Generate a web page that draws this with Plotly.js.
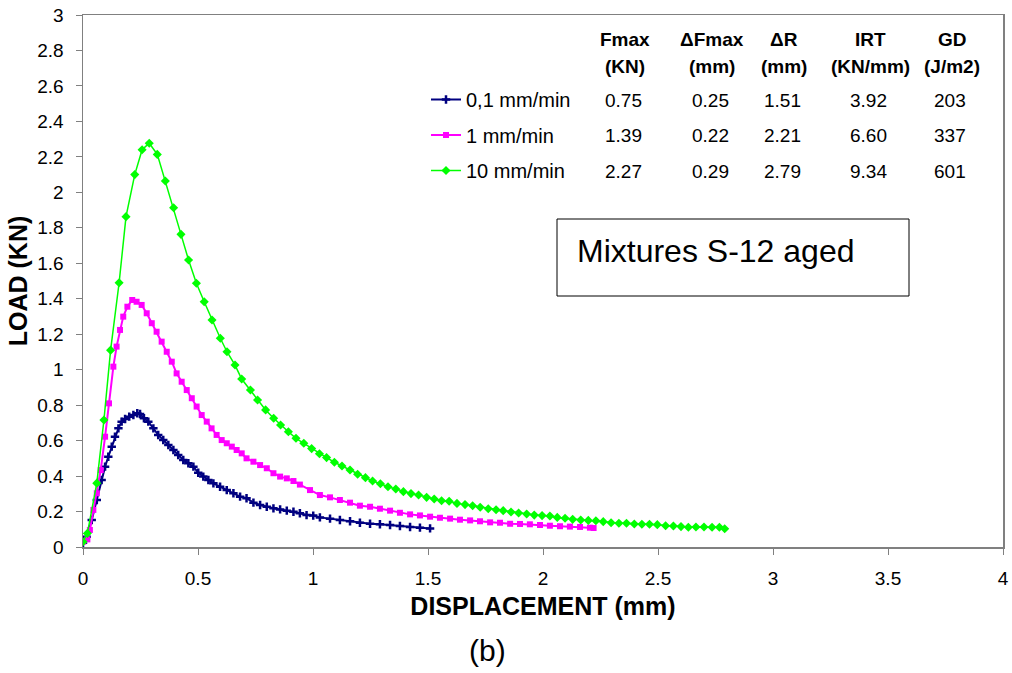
<!DOCTYPE html>
<html><head><meta charset="utf-8">
<script src="https://cdn.plot.ly/plotly-3.0.1.min.js"></script>
<style>body{margin:0;background:#fff}#chart{width:1012px;height:673px}</style>
</head><body><div id="chart"></div>
<script>
const seriesNames = ["0,1 mm/min", "1 mm/min", "10 mm/min"];

const navyX = [0,0.016,0.038,0.06,0.081,0.096,0.11,0.125,0.139,0.154,0.168,0.183,0.201,0.219,0.236,0.248,0.265,0.284,0.306,0.327,0.349,0.371,0.393,0.414,0.436,0.458,0.48,0.501,0.523,0.545,0.567,0.596,0.625,0.654,0.683,0.711,0.741,0.77,0.799,0.828,0.857,0.886,0.915,0.943,0.972,1.001,1.03,1.074,1.117,1.161,1.204,1.248,1.291,1.335,1.378,1.422,1.465,1.509];
const navyY = [0.024,0.058,0.152,0.265,0.378,0.453,0.509,0.566,0.622,0.669,0.707,0.722,0.735,0.744,0.754,0.75,0.726,0.707,0.669,0.632,0.603,0.575,0.547,0.519,0.491,0.472,0.453,0.419,0.397,0.378,0.359,0.34,0.321,0.303,0.284,0.275,0.25,0.237,0.227,0.218,0.212,0.205,0.199,0.19,0.18,0.177,0.167,0.16,0.152,0.145,0.137,0.131,0.128,0.124,0.118,0.113,0.109,0.105];

const magX = [0.001,0.019,0.03,0.045,0.06,0.077,0.096,0.113,0.132,0.146,0.161,0.175,0.193,0.214,0.233,0.255,0.277,0.299,0.32,0.342,0.364,0.386,0.407,0.429,0.451,0.473,0.494,0.516,0.538,0.559,0.581,0.603,0.625,0.647,0.668,0.69,0.711,0.741,0.77,0.799,0.828,0.857,0.886,0.915,0.943,0.987,1.03,1.074,1.117,1.161,1.204,1.248,1.291,1.335,1.378,1.422,1.465,1.509,1.552,1.596,1.639,1.683,1.726,1.77,1.813,1.857,1.9,1.943,1.987,2.03,2.074,2.117,2.161,2.204,2.22];
const magY = [0.03,0.043,0.096,0.209,0.303,0.434,0.622,0.81,1.017,1.13,1.224,1.299,1.355,1.393,1.383,1.365,1.318,1.262,1.214,1.158,1.101,1.045,0.979,0.932,0.885,0.839,0.792,0.744,0.707,0.669,0.632,0.603,0.585,0.566,0.547,0.528,0.5,0.481,0.462,0.444,0.416,0.397,0.387,0.372,0.352,0.321,0.293,0.28,0.265,0.25,0.233,0.227,0.216,0.205,0.193,0.184,0.178,0.171,0.165,0.16,0.154,0.15,0.145,0.139,0.137,0.131,0.13,0.128,0.124,0.12,0.117,0.115,0.113,0.109,0.107];

const greenX = [0,0.019,0.06,0.091,0.12,0.157,0.187,0.225,0.257,0.288,0.323,0.358,0.394,0.426,0.459,0.493,0.527,0.561,0.597,0.626,0.661,0.69,0.728,0.759,0.794,0.829,0.859,0.893,0.926,0.96,0.994,1.028,1.059,1.093,1.126,1.161,1.194,1.228,1.259,1.293,1.326,1.36,1.393,1.426,1.459,1.494,1.527,1.559,1.592,1.626,1.661,1.694,1.727,1.762,1.796,1.827,1.861,1.894,1.929,1.962,1.996,2.03,2.062,2.096,2.129,2.164,2.197,2.23,2.262,2.296,2.33,2.363,2.397,2.43,2.463,2.497,2.533,2.567,2.6,2.632,2.665,2.7,2.735,2.767,2.79];
const greenY = [0.03,0.077,0.36,0.716,1.11,1.49,1.863,2.1,2.24,2.277,2.214,2.064,1.913,1.763,1.618,1.487,1.383,1.28,1.177,1.101,1.026,0.947,0.885,0.829,0.773,0.726,0.688,0.65,0.613,0.585,0.555,0.526,0.504,0.478,0.457,0.434,0.41,0.391,0.372,0.357,0.34,0.327,0.312,0.301,0.293,0.28,0.271,0.261,0.258,0.246,0.239,0.233,0.224,0.216,0.21,0.205,0.197,0.192,0.186,0.18,0.177,0.175,0.167,0.162,0.156,0.152,0.15,0.148,0.143,0.137,0.134,0.134,0.13,0.128,0.128,0.126,0.12,0.118,0.115,0.111,0.113,0.113,0.111,0.111,0.103];

const tableHeaders1 = ["Fmax", "ΔFmax", "ΔR", "IRT", "GD"];
const tableHeaders2 = ["(KN)", "(mm)", "(mm)", "(KN/mm)", "(J/m2)"];
const tableRows = [
  ["0.75", "0.25", "1.51", "3.92", "203"],
  ["1.39", "0.22", "2.21", "6.60", "337"],
  ["2.27", "0.29", "2.79", "9.34", "601"]
];
const xTicks = [0, 0.5, 1, 1.5, 2, 2.5, 3, 3.5, 4];
const yTicks = [0,0.2,0.4,0.6,0.8,1,1.2,1.4,1.6,1.8,2,2.2,2.4,2.6,2.8,3];

const FONT = "Liberation Sans, Arial, sans-serif";
const L = 83, R = 1003, T = 15, B = 547;
const px = v => (v - L) / (R - L);
const py = v => (B - v) / (B - T);

const traces = [
  {x: navyX, y: navyY, name: seriesNames[0], mode: "lines+markers", legendgroup: "a",
   line: {color: "#000080", width: 2}, marker: {symbol: "cross-thin", size: 6, color: "#000080", line: {color: "#000080", width: 2.5}}},
  {x: magX, y: magY, name: seriesNames[1], mode: "lines+markers", legendgroup: "b",
   line: {color: "#FF00FF", width: 2}, marker: {symbol: "square", size: 6, color: "#FF00FF"}},
  {x: greenX, y: greenY, name: seriesNames[2], mode: "lines+markers", legendgroup: "c",
   line: {color: "#00FF00", width: 1.5}, marker: {symbol: "diamond", size: 7, color: "#00FF00"}}
];

const colX = [625, 712, 784, 870, 952];
const annotations = [];
tableHeaders1.forEach((t, i) => annotations.push({xref: "paper", yref: "paper", x: px(colX[i]), y: py(39), text: "<b>" + t + "</b>", showarrow: false, xanchor: "center", yanchor: "middle", font: {family: FONT, size: 19, color: "#000"}}));
tableHeaders2.forEach((t, i) => annotations.push({xref: "paper", yref: "paper", x: px(colX[i]), y: py(66), text: "<b>" + t + "</b>", showarrow: false, xanchor: "center", yanchor: "middle", font: {family: FONT, size: 19, color: "#000"}}));
const rowY = [100, 135, 171];
tableRows.forEach((row, r) => row.forEach((t, i) => annotations.push({xref: "paper", yref: "paper", x: px(colX[i] - 2), y: py(rowY[r]), text: t, showarrow: false, xanchor: "center", yanchor: "middle", font: {family: FONT, size: 19, color: "#000"}})));
annotations.push({xref: "paper", yref: "paper", x: px(575), y: py(251), text: "Mixtures S-12 aged", showarrow: false, xanchor: "left", yanchor: "middle", font: {family: FONT, size: 32, color: "#000"}});
annotations.push({xref: "paper", yref: "paper", x: px(487), y: py(650), text: "(b)", showarrow: false, xanchor: "center", yanchor: "middle", font: {family: FONT, size: 30, color: "#000"}});

const layout = {
  width: 1012, height: 673,
  margin: {l: L, r: 1012 - R, t: T, b: 673 - B},
  paper_bgcolor: "#fff", plot_bgcolor: "#fff",
  font: {family: FONT, size: 19, color: "#000"},
  showlegend: true,
  legend: {x: px(426), y: py(80), xanchor: "left", yanchor: "top", bgcolor: "rgba(0,0,0,0)",
           font: {family: FONT, size: 20, color: "#000"}, tracegroupgap: 6.5, traceorder: "grouped"},
  xaxis: {range: [0, 4], tickvals: xTicks, ticktext: xTicks.map(String), ticks: "outside", ticklen: 6, tickcolor: "#808080",
          showline: true, linecolor: "#808080", linewidth: 1.5, mirror: true, showgrid: false, zeroline: false,
          ticklabelstandoff: 8,
          tickfont: {size: 19}, title: {text: "<b>DISPLACEMENT (mm)</b>", font: {size: 25}, standoff: 9}},
  yaxis: {range: [0, 3], tickvals: yTicks, ticktext: yTicks.map(String), ticks: "outside", ticklen: 6, tickcolor: "#808080",
          showline: true, linecolor: "#808080", linewidth: 1.5, mirror: true, showgrid: false, zeroline: false,
          ticklabelstandoff: 8,
          tickfont: {size: 19}, title: {text: "<b>LOAD (KN)</b>", font: {size: 25}, standoff: 2}},
  shapes: [{type: "rect", xref: "paper", yref: "paper", x0: px(557), x1: px(909), y0: py(296), y1: py(219), line: {color: "#000", width: 1}}],
  annotations: annotations
};

Plotly.newPlot("chart", traces, layout, {displayModeBar: false, staticPlot: true});
</script></body></html>
